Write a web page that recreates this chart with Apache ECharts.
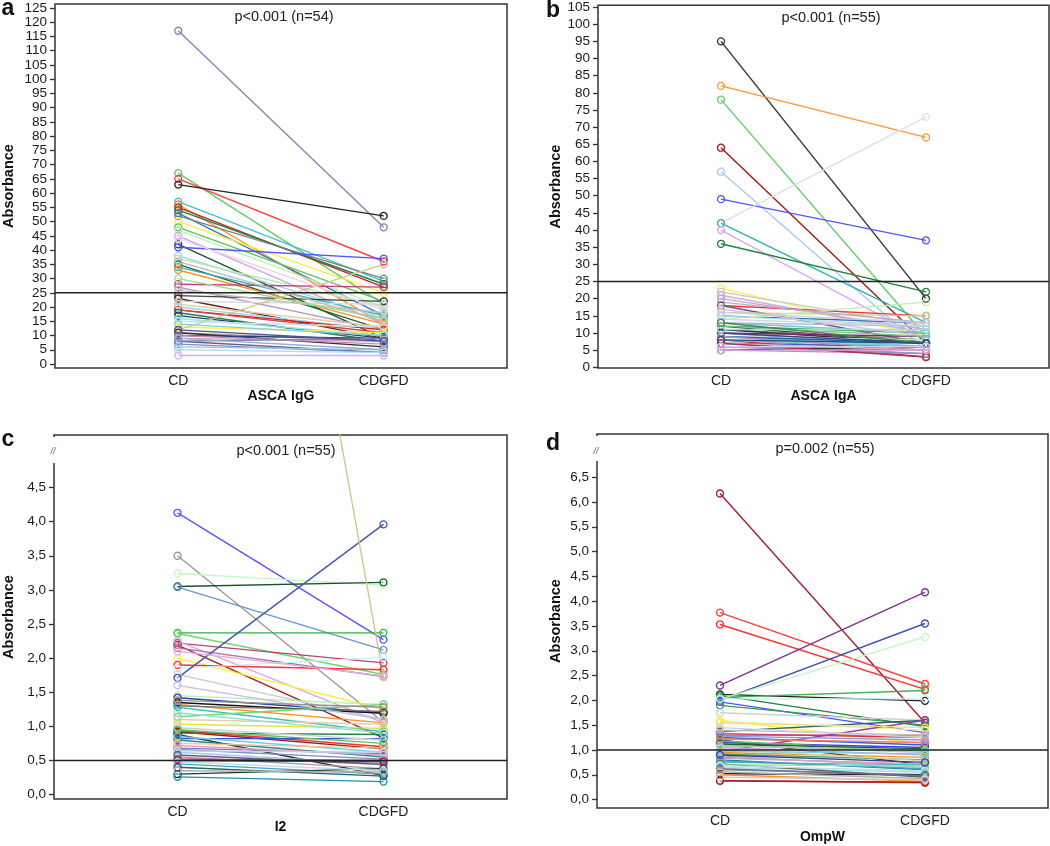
<!DOCTYPE html>
<html><head><meta charset="utf-8">
<script src="https://cdn.jsdelivr.net/npm/echarts@6/dist/echarts.min.js"></script>
<style>html,body{margin:0;padding:0;background:#fff}#c{width:1050px;height:846px}</style>
</head><body><div id="c"></div>
<script>
const cats = ['CD', 'CDGFD'];

// Panel a: ASCA IgG
const aCD  = [117,67,65,63,57,56,55,54,53,52,50,48,47,45,42,41,38,37,35,34,33,28,27,24,23,22,20,19,19,18,17,16,15,13,12,11,11,10,10,9,8,8,7,6,5,3,21,26,14,30,36,44,12,9];
const aGFD = [48,21,36,52,29,14,27,28,17,30,25,22,20,14,9,37,16,20,12,17,14,27,12,22,9,21,12,12,11,8,9,10,13,11,35,8,6,9,7,8,4,9,4,5,4,3,13,18,10,16,15,19,8,5];
const aColors = ['#8585b5','#66cc66','#ff4040','#222222','#40c0d0','#ff9020','#cc2020','#208040','#3080c0','#808080','#ffee40','#60c060','#c0f0b0','#d0a0f0','#205030','#5050ff','#b0d0f0','#b0f0a0','#206040','#30b0b0','#ff9020','#c04080','#b090c0','#404040','#602020','#d8d8d8','#a0d0f0','#d02020','#e04040','#208050','#204070','#a0e0e0','#c0e8f0','#ffee40','#d0c890','#a0a0a0','#303030','#204080','#c090b0','#e0a0c0','#606090','#8080b0','#7090c0','#a0c0e0','#b0e0f0','#d0b0f0','#e0d0a0','#c0c0c0','#80d0e0','#90e090','#c0c0c0','#f0d0f0','#5050a0','#90b0d0'];
const aTicks = [0,5,10,15,20,25,30,35,40,45,50,55,60,65,70,75,80,85,90,95,100,105,110,115,120,125];

// Panel b: ASCA IgA
const bCD  = [95,82,78,64,57,49,42,42,40,36,23,22,21,20,18,18,16,15,14,13,12,12,11,11,10,10,9,9,8,8,7,7,6,6,5,5,14,13,17,19,12,10,9,8,7,6,11,15,16,13,9,8,7,6,5];
const bGFD = [20,67,9,7,5,37,73,13,8,22,9,12,10,11,15,7,15,13,19,12,10,7,8,7,9,6,6,8,3,5,6,4,6,5,6,4,12,10,9,13,9,7,7,6,5,4,11,12,13,7,5,7,3,6,5];
const bColors = ['#333333','#ff9933','#66cc66','#a01818','#a8c8f0','#5555ff','#e0e0e0','#30b0b0','#d8a8f0','#208040','#ffee40','#c8c8c8','#c8b0e0','#d0a0d0','#ff3030','#606060','#c8d0a0','#3070b0','#c0f0b0','#a0c0e0','#20a040','#204020','#60a060','#333333','#802080','#a0c0e8','#80d0e0','#c0e0f0','#c02020','#e080a0','#4060d0','#a0a0a0','#5050ff','#c04080','#333333','#d080c0','#d8d8d8','#80c0e0','#e0c0e0','#b0b0d0','#80c080','#404080','#2060a0','#70d0d0','#e0b0c0','#9090c0','#a0e0e0','#b0d8f0','#d0d0d0','#508050','#c090b0','#205080','#b03050','#d0d0f0','#e0a0e0'];
const bTicks = [0,5,10,15,20,25,30,35,40,45,50,55,60,65,70,75,80,85,90,95,100,105];

// Panel c: I2
const cCD  = [4.13,3.50,3.24,3.05,3.04,2.37,2.36,2.22,2.19,2.25,2.15,2.00,1.90,1.85,1.76,1.71,1.45,1.42,1.35,1.32,1.30,1.28,1.14,1.03,0.94,0.92,0.90,0.88,0.82,0.80,0.68,0.66,0.62,0.55,0.52,0.45,0.30,0.26,18.5,1.10,0.98,0.85,0.72,0.64,0.58,0.50,0.48,0.40,0.35,1.60,1.20,0.95,0.75,1.38,2.10];
const cGFD = [2.27,1.06,3.07,3.11,2.12,2.37,1.76,1.93,0.83,1.05,1.73,1.25,1.83,2.01,1.10,3.96,1.32,1.20,1.19,1.05,1.22,0.92,1.32,0.97,0.70,0.67,0.88,0.28,0.82,0.55,0.60,0.52,0.45,0.38,0.50,0.30,0.38,0.19,1.72,1.03,0.80,0.62,0.58,0.62,0.44,0.48,0.35,0.27,0.33,1.10,0.90,0.75,0.68,1.28,1.74];
const cColors = ['#5555ff','#999999','#c8f8c0','#1a5030','#6699cc','#30b040','#70d870','#c04070','#a02020','#d8a8f0','#b070a0','#ffee40','#ff3030','#c0f0f0','#d0d0d0','#4455aa','#b8f0b0','#3040a0','#111111','#ff9020','#707070','#40c0c0','#70d870','#e0e040','#ff3030','#a01818','#208040','#333333','#3050e0','#2a8a8a','#9070b0','#8090c0','#a0c8f0','#a0a0a0','#c03080','#40a0d0','#1a3a3a','#2090b0','#d0c890','#e0d0b0','#d0d0d0','#70d0e0','#e0a0c0','#b0d8f0','#606080','#803060','#c0e0e0','#2a6060','#b0b0b0','#c0c0e0','#90e0d0','#60c060','#f0c0a0','#909090','#e0b0e0'];
const cTicks = [0,0.5,1.0,1.5,2.0,2.5,3.0,3.5,4.0,4.5];

// Panel d: OmpW
const dCD  = [6.17,3.77,3.53,2.30,2.12,2.10,2.06,2.00,2.02,1.97,1.90,2.03,1.75,1.60,1.57,1.37,1.33,1.30,1.25,1.20,1.15,1.10,0.97,0.95,0.92,0.85,0.80,0.75,0.65,0.60,0.52,0.50,0.38,0.38,1.40,1.28,1.18,1.12,1.05,1.02,0.98,0.88,0.83,0.78,0.72,0.70,0.68,0.62,0.56,0.45,1.55,1.45,1.22,0.90,1.08];
const dGFD = [1.55,2.33,2.22,4.18,1.99,1.47,2.20,3.55,3.28,1.35,1.50,2.03,1.60,1.12,1.40,1.60,1.25,1.30,1.10,0.70,1.05,0.95,1.60,0.85,0.80,0.70,0.60,0.70,0.55,0.50,0.50,0.37,0.34,0.35,1.30,1.20,0.98,1.02,0.90,0.78,0.92,0.65,0.72,0.62,0.45,0.68,0.58,0.48,0.42,0.40,1.45,1.25,1.15,0.75,1.00];
const dColors = ['#a02030','#ff4040','#ff3030','#803090','#222222','#208040','#40b050','#4050b0','#c0f8c0','#5050ff','#30a050','#c8f0f0','#d0d0d0','#ffee40','#f0f0a0','#306070','#e03040','#c04080','#3060d0','#222222','#4040e0','#b0c0e0','#9040a0','#ff9020','#40b050','#909090','#208080','#40c0d0','#a0e0e0','#a0a0a0','#222222','#ff9020','#e04040','#a02020','#c0c0c0','#80a0d0','#60c060','#206040','#d0a0f0','#e0d0b0','#80d0e0','#b0b0d0','#e0a0c0','#40a0d0','#606060','#90e090','#c0e0f0','#707090','#b0b0b0','#d0d0d0','#f0e080','#d0d0e0','#ff7070','#3040a0','#a0d0a0'];
const dTicks = [0,0.5,1.0,1.5,2.0,2.5,3.0,3.5,4.0,4.5,5.0,5.5,6.0,6.5];

const refValues = [25, 25, 0.5, 1.0];
const axisNames = ['ASCA IgG', 'ASCA IgA', 'I2', 'OmpW'];
const pTexts = ['p<0.001 (n=54)', 'p<0.001 (n=55)', 'p<0.001 (n=55)', 'p=0.002 (n=55)'];
const letters = ['a', 'b', 'c', 'd'];

const FONT = '"Liberation Sans", Arial, sans-serif';
const layout = [
  {grid:{left:55,top:4,width:452,height:364}, min:-1.4, max:126.4, dec:0, gapY:39, gapX:21, title:[284,17], letter:[8,9]},
  {grid:{left:598,top:4,width:451,height:364}, min:-0.2, max:105.5, dec:0, gapY:35, gapX:21, title:[831,18], letter:[553,11]},
  {grid:{left:54,top:435,width:453,height:364}, min:-0.065, max:5.27, dec:1, gapY:38, gapX:20, title:[286,451], letter:[8,440]},
  {grid:{left:597,top:434,width:451,height:374}, min:-0.17, max:7.37, dec:1, gapY:34, gapX:22, title:[825,449], letter:[553,444]}
];
const data = [
  {cd:aCD, gfd:aGFD, col:aColors, ticks:aTicks},
  {cd:bCD, gfd:bGFD, col:bColors, ticks:bTicks},
  {cd:cCD, gfd:cGFD, col:cColors, ticks:cTicks},
  {cd:dCD, gfd:dGFD, col:dColors, ticks:dTicks}
];

const grids = [], xAxes = [], yAxes = [], series = [], graphics = [];
layout.forEach((L, i) => {
  const D = data[i];
  grids.push(Object.assign({show:true, borderColor:'#333', borderWidth:1.5, backgroundColor:'transparent'}, L.grid));
  xAxes.push({
    type:'value', gridIndex:i, min:-0.6, max:1.6,
    axisLine:{show:false, onZero:false}, axisTick:{show:false}, splitLine:{show:false},
    axisLabel:{customValues:[0,1], formatter:v => cats[Math.round(v)], fontSize:14, color:'#222', fontFamily:FONT, margin:6},
    name:axisNames[i], nameLocation:'middle', nameGap:L.gapX,
    nameTextStyle:{fontSize:14, fontWeight:'bold', color:'#111', fontFamily:FONT}
  });
  yAxes.push({
    type:'value', gridIndex:i, min:L.min, max:L.max,
    axisLine:{show:false, onZero:false}, splitLine:{show:false},
    axisTick:{show:true, customValues:D.ticks, length:5, lineStyle:{color:'#333', width:1.3}},
    axisLabel:{customValues:D.ticks, fontSize:13.5, color:'#1a1a1a', fontFamily:FONT, margin:8,
      formatter:v => L.dec ? v.toFixed(1).replace('.', ',') : String(Math.round(v))},
    name:'Absorbance', nameLocation:'middle', nameGap:L.gapY,
    nameTextStyle:{fontSize:14.5, fontWeight:'bold', color:'#111', fontFamily:FONT}
  });
  D.cd.forEach((v, k) => {
    const c = D.col[k];
    series.push({
      type:'line', xAxisIndex:i, yAxisIndex:i, silent:true, animation:false,
      data:[[0, v], [1, D.gfd[k]]],
      symbol:'circle', symbolSize:7, showSymbol:true,
      lineStyle:{color:c, width:1.4},
      itemStyle:{color:'rgba(255,255,255,0)', borderColor:c, borderWidth:1.3},
      z:2
    });
  });
  series.push({
    type:'line', xAxisIndex:i, yAxisIndex:i, silent:true, animation:false,
    data:[[-0.6, refValues[i]], [1.6, refValues[i]]], symbol:'none',
    lineStyle:{color:'#222', width:1.5}, z:5
  });
  graphics.push({type:'text', x:L.title[0], y:L.title[1], z:10,
    style:{text:pTexts[i], font:'14.5px ' + FONT, fill:'#222', align:'center', verticalAlign:'middle'}});
  graphics.push({type:'text', x:L.letter[0], y:L.letter[1], z:10,
    style:{text:letters[i], font:'bold 23px ' + FONT, fill:'#111', align:'center', verticalAlign:'middle'}});
});
// axis break marks on panels c and d
[[54, 436, 462, 451], [597, 435, 460, 451]].forEach(b => {
  graphics.push({type:'rect', z:20, shape:{x:b[0]-3, y:b[1]+1, width:6, height:b[2]-b[1]}, style:{fill:'#fff'}});
  graphics.push({type:'text', z:21, x:b[0]-1, y:b[3], style:{text:'//', font:'italic 9px ' + FONT, fill:'#4a5a8a', align:'center', verticalAlign:'middle'}});
});

const chart = echarts.init(document.getElementById('c'), null, {renderer:'canvas'});
chart.setOption({
  animation:false,
  backgroundColor:'#fff',
  grid:grids, xAxis:xAxes, yAxis:yAxes, series:series, graphic:graphics
});
</script></body></html>
